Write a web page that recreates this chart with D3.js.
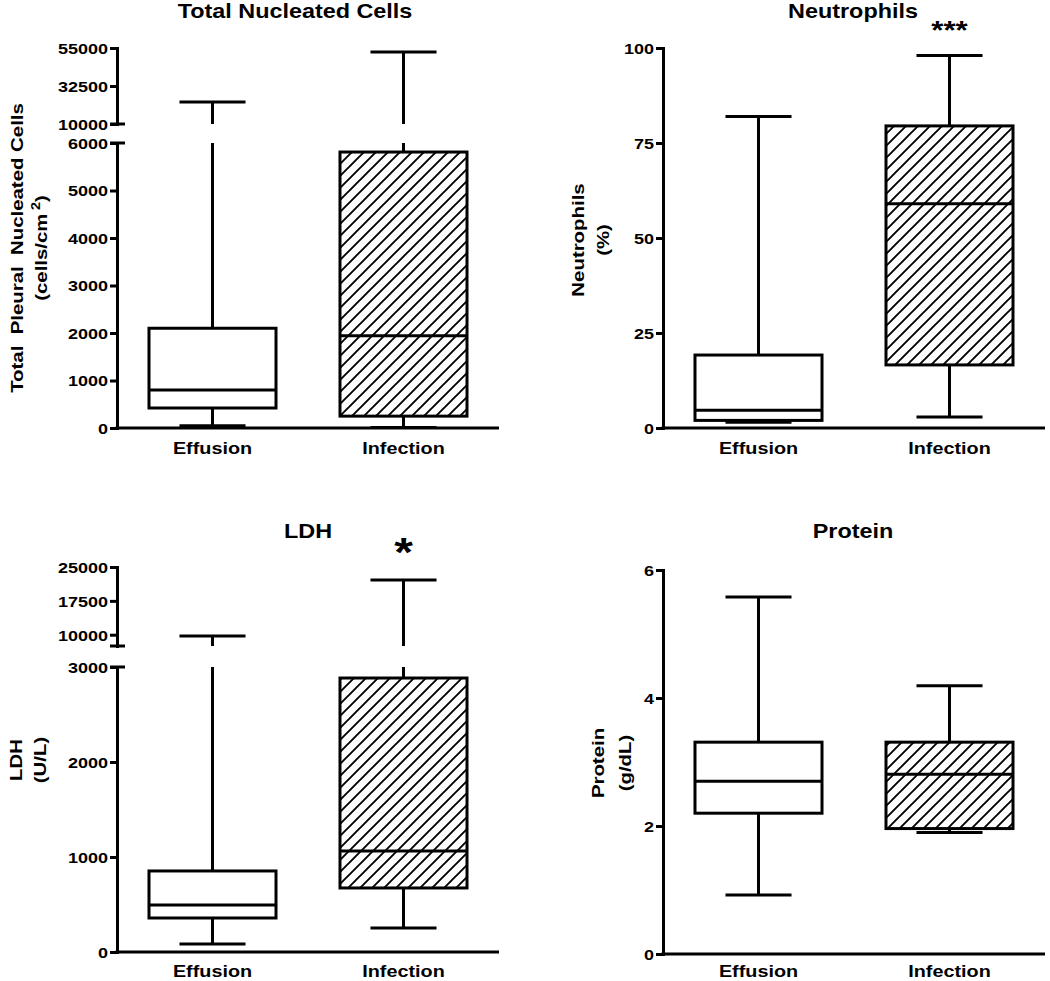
<!DOCTYPE html>
<html><head><meta charset="utf-8">
<script src="https://cdn.jsdelivr.net/npm/d3@7"></script>
<style>
body{margin:0;background:#fff}
text{font-family:"Liberation Sans",Arial,sans-serif;font-weight:bold;fill:#000;white-space:pre}
</style>
</head><body><svg id="c" width="1050" height="981"></svg>
<script>
const categories = ["Effusion","Infection"];
// [min, q1, median, q3, max]
const tncStats = [[50,421,800,2100,23000],[10,250,1940,5810,52600]];
const neutStats = [[1.5,2,4.7,19.2,82],[2.9,16.6,59,79.5,98]];
const ldhStats = [[84,358,495,853,9700],[253,674,1063,2884,22100]];
const proteinStats = [[0.92,2.2,2.7,3.31,5.58],[1.9,1.96,2.81,3.31,4.19]];
const boxFills = ["plain","hatch"];
const tncTicksLow = [0,1000,2000,3000,4000,5000,6000];
const tncTicksHigh = [10000,32500,55000];
const neutTicks = [0,25,50,75,100];
const ldhTicksLow = [0,1000,2000,3000];
const ldhTicksHigh = [10000,17500,25000];
const proteinTicks = [0,2,4,6];
const titles = ["Total Nucleated Cells","Neutrophils","LDH","Protein"];
const yLabels = [["Total  Pleural  Nucleated Cells","(cells/cm","2",")"],["Neutrophils","(%)"],["LDH","(U/L)"],["Protein","(g/dL)"]];
const sigMarks = [["",""],["","***"],["","*"],["",""]];

const SX = 1.2;
const svg = d3.select("#c");
const defs = svg.append("defs");
defs.append("pattern").attr("id","hatch").attr("patternUnits","userSpaceOnUse")
  .attr("width",12).attr("height",12)
  .append("path").attr("d","M-3,3 L3,-3 M0,12 L12,0 M9,15 L15,9")
  .attr("stroke","#000").attr("stroke-width",1.9).attr("fill","none");

const panels = [
  {title:titles[0], ylab:yLabels[0], stats:tncStats, sig:sigMarks[0],
   axisX:117, right:499, titleX:295, titleY:17.5, catY:454, labX:[23,47], labY:248, sigY:0, sigSize:0,
   segs:[{domain:[0,6000],range:[428,143],ticks:tncTicksLow},{domain:[10000,55000],range:[124,48],ticks:tncTicksHigh}]},
  {title:titles[1], ylab:yLabels[1], stats:neutStats, sig:sigMarks[1],
   axisX:663, right:1045, titleX:853, titleY:17.5, catY:454, labX:[584,609], labY:240, sigY:39, sigSize:26,
   segs:[{domain:[0,100],range:[428,48],ticks:neutTicks}]},
  {title:titles[2], ylab:yLabels[2], stats:ldhStats, sig:sigMarks[2],
   axisX:117, right:499, titleX:308, titleY:538, catY:977, labX:[22,46], labY:760, sigY:566, sigSize:40,
   segs:[{domain:[0,3000],range:[952,667],ticks:ldhTicksLow},{domain:[7500,25000],range:[646,567],ticks:ldhTicksHigh}]},
  {title:titles[3], ylab:yLabels[3], stats:proteinStats, sig:sigMarks[3],
   axisX:663, right:1045, titleX:853, titleY:538, catY:977, labX:[604,631], labY:763, sigY:0, sigSize:0,
   segs:[{domain:[0,6],range:[954,570],ticks:proteinTicks}]}
];

function stretchedText(g, x, y, str, size, rot) {
  return g.append("text")
    .attr("transform", `translate(${x},${y})` + (rot ? ` rotate(${rot})` : "") + ` scale(${SX},1)`)
    .attr("text-anchor","middle").attr("font-size",size).text(str);
}

panels.forEach(p => {
  const g = svg.append("g");
  p.segs.forEach(s => { s.y = d3.scaleLinear().domain(s.domain).range(s.range); });
  const x = d3.scalePoint().domain(categories).range([p.axisX, p.right]).padding(0.5);
  const bw = x.step() * 0.665, cw = bw * 0.52;

  const yOf = v => { const s = p.segs.find(s => v >= s.domain[0] && v <= s.domain[1]) || p.segs[0]; return s.y(v); };
  const segLine = (xx, a, b) => {
    p.segs.forEach(s => {
      const lo = Math.max(Math.min(a,b), s.domain[0]), hi = Math.min(Math.max(a,b), s.domain[1]);
      if (lo < hi) g.append("line").attr("x1",xx).attr("x2",xx).attr("y1",s.y(lo)).attr("y2",s.y(hi))
        .attr("stroke","#000").attr("stroke-width",3);
    });
  };

  // y axis segments
  p.segs.forEach(s => {
    const ax = g.append("g").attr("transform",`translate(${p.axisX},0)`)
      .call(d3.axisLeft(s.y).tickValues(s.ticks).tickFormat(d => String(d))
        .tickSize(7).tickSizeOuter(0).tickPadding(0.5));
    ax.select(".domain").attr("stroke-width",3).attr("stroke-linecap","square");
    ax.selectAll(".tick line").attr("stroke-width",3);
    ax.selectAll(".tick text").attr("font-size",15).attr("font-family",null)
      .attr("transform",`scale(${SX},1)`).attr("dy","0.36em");
  });
  if (p.segs.length > 1) {
    [p.segs[0].range[1], p.segs[1].range[0]].forEach(yy => {
      g.append("line").attr("x1",p.axisX-7).attr("x2",p.axisX+8).attr("y1",yy).attr("y2",yy)
        .attr("stroke","#000").attr("stroke-width",3);
    });
  }
  // x axis line
  const y0 = p.segs[0].range[0];
  g.append("line").attr("x1",p.axisX-1.5).attr("x2",p.right).attr("y1",y0).attr("y2",y0)
    .attr("stroke","#000").attr("stroke-width",3);

  // boxes
  p.stats.forEach((st, i) => {
    const cx = x(categories[i]);
    const [mn, q1, md, q3, mx] = st;
    segLine(cx, q3, mx);
    segLine(cx, mn, q1);
    [mn, mx].forEach(v => g.append("line").attr("x1",cx-cw/2).attr("x2",cx+cw/2)
      .attr("y1",yOf(v)).attr("y2",yOf(v)).attr("stroke","#000").attr("stroke-width",3));
    g.append("rect").attr("x",cx-bw/2).attr("width",bw)
      .attr("y",yOf(q3)).attr("height",yOf(q1)-yOf(q3))
      .attr("fill", boxFills[i]==="hatch" ? "url(#hatch)" : "#fff")
      .attr("stroke","#000").attr("stroke-width",3);
    g.append("line").attr("x1",cx-bw/2).attr("x2",cx+bw/2).attr("y1",yOf(md)).attr("y2",yOf(md))
      .attr("stroke","#000").attr("stroke-width",3);
    stretchedText(g, cx, p.catY, categories[i], 16.5);
    if (p.sig[i]) stretchedText(g, cx, p.sigY, p.sig[i], p.sigSize);
  });

  // titles
  stretchedText(g, p.titleX, p.titleY, p.title, 19.5);
  // y labels
  stretchedText(g, p.labX[0], p.labY, p.ylab[0], 17, -90);
  if (p.ylab.length > 2) {
    const t2 = g.append("text")
      .attr("transform",`translate(${p.labX[1]},${p.labY}) rotate(-90) scale(${SX},1)`)
      .attr("text-anchor","middle").attr("font-size",17);
    t2.append("tspan").text(p.ylab[1]);
    t2.append("tspan").attr("dy",-7).attr("dx",3).attr("font-size",12).text(p.ylab[2]);
    t2.append("tspan").attr("dy",7).text(p.ylab[3]);
  } else {
    stretchedText(g, p.labX[1], p.labY, p.ylab[1], 17, -90);
  }
});
</script></body></html>
